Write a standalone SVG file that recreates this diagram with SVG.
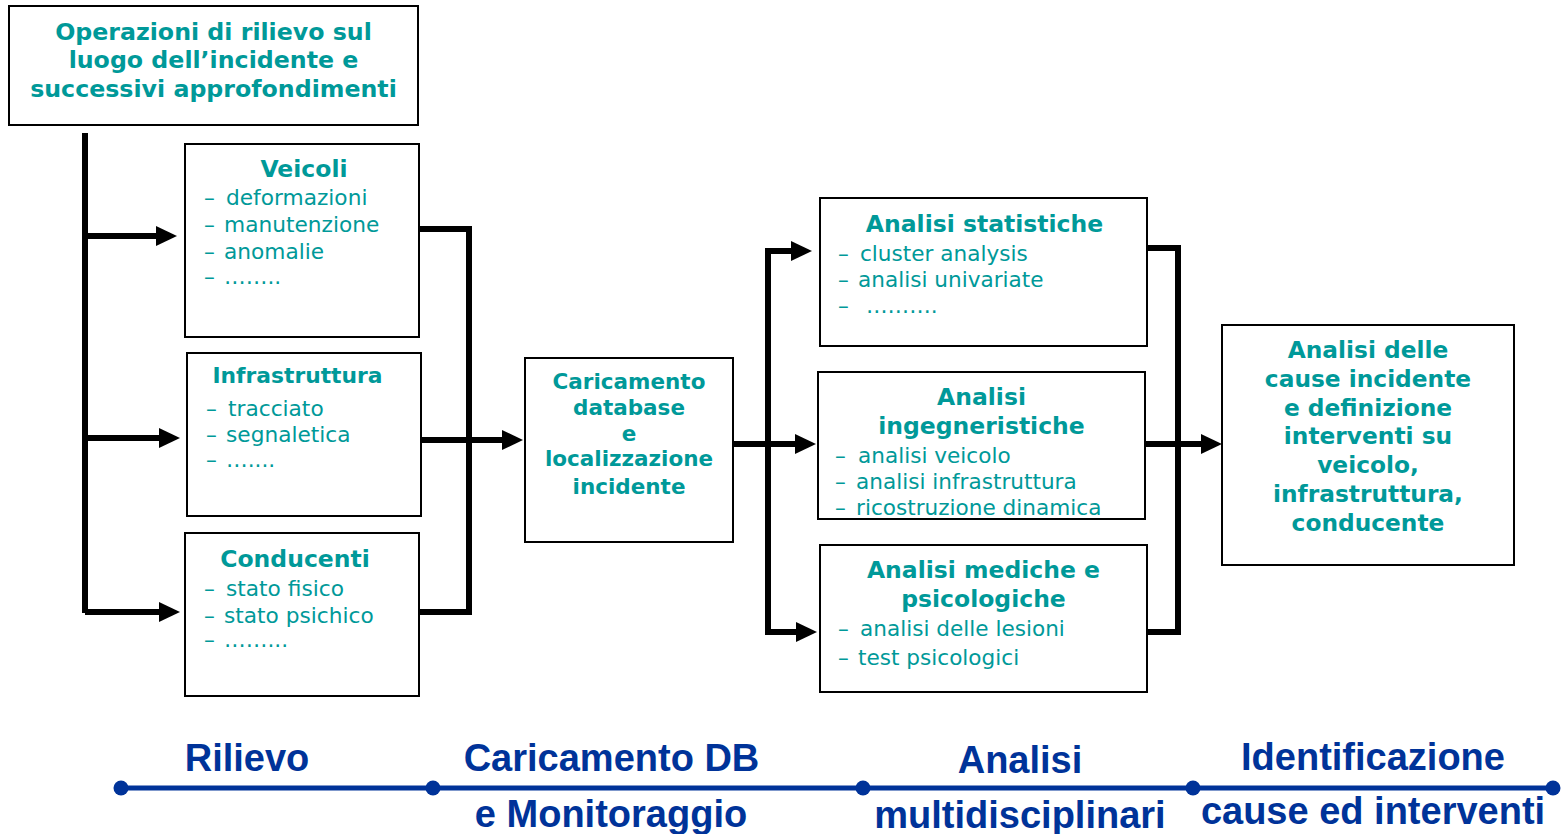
<svg xmlns="http://www.w3.org/2000/svg" width="1561" height="834" viewBox="0 0 1561 834">
<style>
.box{fill:#fff;stroke:#000;stroke-width:2}
.t{font-family:"DejaVu Sans",Verdana,sans-serif;font-weight:bold;fill:#009999;text-anchor:middle}
.i{font-family:"DejaVu Sans",Verdana,sans-serif;fill:#009999;font-size:21.7px}
.j{font-family:"DejaVu Sans",Verdana,sans-serif;fill:#009999;font-size:21.6px}
.c{fill:none;stroke:#000;stroke-width:6;stroke-linejoin:miter}
.a{fill:none;stroke:#000;stroke-width:6;marker-end:url(#ah)}
.tl{font-family:"Liberation Sans",Arial,sans-serif;font-weight:bold;font-size:38px;fill:#003399;text-anchor:middle}
</style>
<defs>
<marker id="ah" viewBox="0 -10 21 20" markerWidth="21" markerHeight="20" refX="0" refY="0" markerUnits="userSpaceOnUse" orient="auto">
<path d="M0,-10 L21,0 L0,10 z" fill="#000"/>
</marker>
</defs>
<rect width="1561" height="834" fill="#fff"/>

<g id="connectors">
<path class="c" d="M85,133 V613"/>
<path class="a" d="M85,236 H156"/>
<path class="a" d="M85,438 H159"/>
<path class="a" d="M85,612 H159"/>
<path class="c" d="M419,229 H469 V612 H419"/>
<path class="a" d="M421,440 H502"/>
<path class="c" d="M791,251 H768 V632 H796"/>
<path class="a" d="M733,444 H795"/>
<path class="a" d="M768,251 H791"/>
<path class="a" d="M768,632 H796"/>
<path class="c" d="M1147,248 H1178 V632 H1147"/>
<path class="a" d="M1145,444 H1201"/>
</g>

<g id="n-operazioni">
<rect class="box" x="9" y="6" width="409" height="119"/>
<text class="t" font-size="23.7" x="213.5" y="40">Operazioni di rilievo sul</text>
<text class="t" font-size="23.7" x="213.5" y="68">luogo dell’incidente e</text>
<text class="t" font-size="23.7" x="213.5" y="97">successivi approfondimenti</text>
</g>

<g id="n-veicoli">
<rect class="box" x="185" y="144" width="234" height="193"/>
<text class="t" font-size="23.5" x="304" y="177">Veicoli</text>
<text class="i" x="204" y="205">–<tspan x="226">deformazioni</tspan></text>
<text class="i" x="204" y="232">–<tspan x="224">manutenzione</tspan></text>
<text class="i" x="204" y="259">–<tspan x="224">anomalie</tspan></text>
<text class="i" x="204" y="284">–<tspan x="224">……..</tspan></text>
</g>

<g id="n-infrastruttura">
<rect class="box" x="187" y="353" width="234" height="163"/>
<text class="t" font-size="21.8" x="297.5" y="383">Infrastruttura</text>
<text class="i" x="206" y="416">–<tspan x="228">tracciato</tspan></text>
<text class="i" x="206" y="442">–<tspan x="226">segnaletica</tspan></text>
<text class="i" x="206" y="467">–<tspan x="226">…....</tspan></text>
</g>

<g id="n-conducenti">
<rect class="box" x="185" y="533" width="234" height="163"/>
<text class="t" font-size="23.5" x="295" y="567">Conducenti</text>
<text class="i" x="204" y="596">–<tspan x="226">stato fisico</tspan></text>
<text class="i" x="204" y="623">–<tspan x="224">stato psichico</tspan></text>
<text class="i" x="204" y="647">–<tspan x="224">……...</tspan></text>
</g>

<g id="n-caricamento">
<rect class="box" x="525" y="358" width="208" height="184"/>
<text class="t" font-size="21.5" x="629" y="389">Caricamento</text>
<text class="t" font-size="21.5" x="629" y="415">database</text>
<text class="t" font-size="21.5" x="629" y="441">e</text>
<text class="t" font-size="21.5" x="629" y="466">localizzazione</text>
<text class="t" font-size="21.5" x="629" y="494">incidente</text>
</g>

<g id="n-statistiche">
<rect class="box" x="820" y="198" width="327" height="148"/>
<text class="t" font-size="23.5" x="984.5" y="232">Analisi statistiche</text>
<text class="j" x="838" y="261">–<tspan x="860">cluster analysis</tspan></text>
<text class="j" x="838" y="287">–<tspan x="858">analisi univariate</tspan></text>
<text class="j" x="838" y="313">–<tspan x="866">……….</tspan></text>
</g>

<g id="n-ingegneristiche">
<rect class="box" x="818" y="372" width="327" height="147"/>
<text class="t" font-size="23.5" x="981.5" y="405">Analisi</text>
<text class="t" font-size="23.5" x="981.5" y="434">ingegneristiche</text>
<text class="j" x="835" y="463">–<tspan x="858">analisi veicolo</tspan></text>
<text class="j" x="835" y="489">–<tspan x="856">analisi infrastruttura</tspan></text>
<text class="j" x="835" y="515">–<tspan x="856">ricostruzione dinamica</tspan></text>
</g>

<g id="n-mediche">
<rect class="box" x="820" y="545" width="327" height="147"/>
<text class="t" font-size="23.5" x="983.5" y="578">Analisi mediche e</text>
<text class="t" font-size="23.5" x="983.5" y="607">psicologiche</text>
<text class="j" x="838" y="636">–<tspan x="860">analisi delle lesioni</tspan></text>
<text class="j" x="838" y="665">–<tspan x="858">test psicologici</tspan></text>
</g>

<g id="n-cause">
<rect class="box" x="1222" y="325" width="292" height="240"/>
<text class="t" font-size="23.3" x="1368" y="358">Analisi delle</text>
<text class="t" font-size="23.3" x="1368" y="387">cause incidente</text>
<text class="t" font-size="23.3" x="1368" y="416">e definizione</text>
<text class="t" font-size="23.3" x="1368" y="444">interventi su</text>
<text class="t" font-size="23.3" x="1368" y="473">veicolo,</text>
<text class="t" font-size="23.3" x="1368" y="502">infrastruttura,</text>
<text class="t" font-size="23.3" x="1368" y="531">conducente</text>
</g>

<g id="timeline">
<line x1="121" y1="788" x2="1553" y2="788" stroke="#003399" stroke-width="5"/>
<circle cx="121" cy="788" r="7.5" fill="#003399"/>
<circle cx="433" cy="788" r="7.5" fill="#003399"/>
<circle cx="863" cy="788" r="7.5" fill="#003399"/>
<circle cx="1193" cy="788" r="7.5" fill="#003399"/>
<circle cx="1553" cy="788" r="7.5" fill="#003399"/>
<text class="tl" x="247" y="771">Rilievo</text>
<text class="tl" x="611.5" y="771">Caricamento DB</text>
<text class="tl" x="611" y="827">e Monitoraggio</text>
<text class="tl" x="1020" y="773">Analisi</text>
<text class="tl" x="1020" y="828">multidisciplinari</text>
<text class="tl" x="1373" y="770">Identificazione</text>
<text class="tl" x="1373" y="824">cause ed interventi</text>
</g>
</svg>
